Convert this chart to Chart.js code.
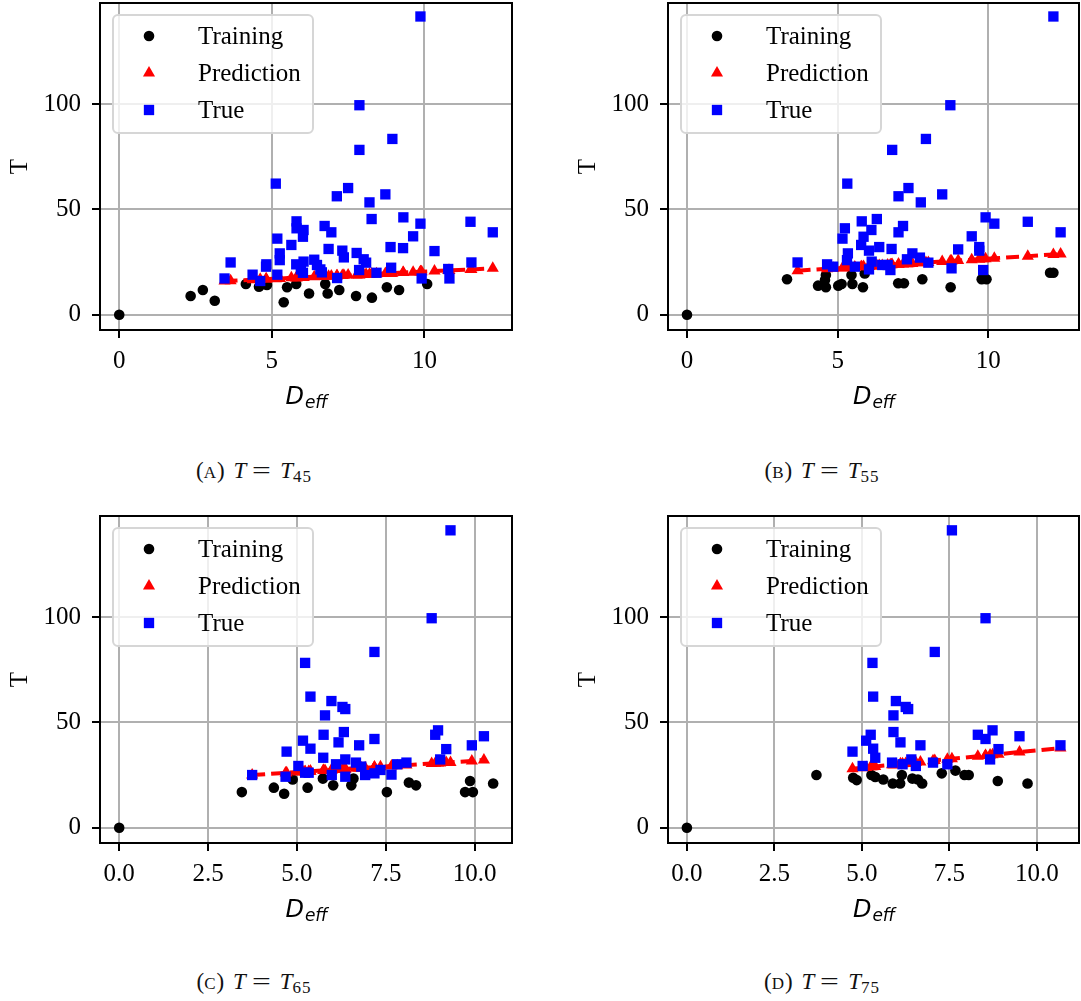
<!DOCTYPE html>
<html>
<head>
<meta charset="utf-8">
<script src="https://cdn.jsdelivr.net/npm/chart.js"></script>
<style>
body { margin: 0; background: #fff; width: 1081px; height: 1001px; position: relative; overflow: hidden; }
canvas { position: absolute; }
.cap { position: absolute; width: 240px; text-align: center; font-family: 'Liberation Serif', serif; font-size: 23px; line-height: 30px; color: #111; white-space: nowrap; }
.cap .sc { font-size: 17px; letter-spacing: 1px; }
.cap .eq { display: inline-block; transform: scaleX(1.45); margin: 0 9px; }
.cap i { margin-left: 3px; }
.cap sub { font-size: 17px; letter-spacing: 1px; vertical-align: -4px; line-height: 0; }
</style>
</head>
<body>
<canvas id="c45" width="540" height="430" style="left:0px;top:0px"></canvas>
<canvas id="c55" width="513" height="430" style="left:568px;top:0px"></canvas>
<canvas id="c65" width="540" height="430" style="left:0px;top:513px"></canvas>
<canvas id="c75" width="513" height="430" style="left:568px;top:513px"></canvas>

<div class="cap" style="left:134px;top:456px">(<span class="sc">A</span>) <i>T</i><span class="eq">=</span><i>T</i><sub>45</sub></div>
<div class="cap" style="left:702px;top:456px">(<span class="sc">B</span>) <i>T</i><span class="eq">=</span><i>T</i><sub>55</sub></div>
<div class="cap" style="left:134px;top:967px">(<span class="sc">C</span>) <i>T</i><span class="eq">=</span><i>T</i><sub>65</sub></div>
<div class="cap" style="left:702px;top:967px">(<span class="sc">D</span>) <i>T</i><span class="eq">=</span><i>T</i><sub>75</sub></div>

<script>
// T45
const trainX45 = [0, 2.34, 2.74, 3.13, 4.15, 4.58, 4.73, 4.84, 5.39, 5.50, 5.80, 6.22, 6.75, 6.83, 7.21, 7.76, 8.28, 8.77, 9.17, 10.09]
const trainY45 = [0, 8.9, 11.7, 6.6, 14.6, 13.3, 14.6, 14.1, 5.9, 13.0, 14.6, 10.1, 14.6, 10.1, 11.7, 8.9, 8.1, 13.0, 11.7, 14.6]
const testX45 = [3.45, 3.65, 4.37, 4.62, 4.81, 4.82, 5.13, 5.18, 5.18, 5.26, 5.26, 5.64, 5.80, 5.81, 5.81, 5.95, 6.02, 6.02, 6.04, 6.04, 6.39, 6.48, 6.59, 6.64, 6.73, 6.86, 6.95, 7.13, 7.14, 7.31, 7.36, 7.50, 7.78, 7.86, 7.87, 7.87, 8.01, 8.09, 8.20, 8.27, 8.43, 8.72, 8.89, 8.91, 8.95, 9.30, 9.31, 9.63, 9.87, 9.87, 9.91, 10.33, 10.78, 10.82, 11.51, 11.54, 12.24]
const trueY45 = [17.2, 24.8, 19.0, 16.0, 22.8, 23.9, 62.2, 36.1, 19.0, 29.1, 25.9, 33.1, 23.9, 44.3, 41.0, 21.5, 37.0, 19.9, 40.2, 25.2, 26.1, 23.6, 21.5, 20.1, 42.1, 31.2, 39.1, 56.2, 17.4, 30.4, 27.2, 60.1, 29.3, 21.2, 99.4, 78.2, 26.3, 24.7, 53.3, 45.4, 19.9, 57.1, 32.1, 22.3, 83.4, 31.6, 46.2, 37.2, 141.5, 43.2, 17.2, 30.2, 21.7, 17.2, 44.1, 24.8, 39.1]
const predY45 = [16.0, 16.1, 16.6, 16.8, 16.9, 16.9, 17.1, 17.2, 17.2, 17.2, 17.2, 17.5, 17.6, 17.6, 17.6, 17.7, 17.7, 17.7, 17.8, 17.8, 18.0, 18.1, 18.1, 18.2, 18.2, 18.3, 18.4, 18.5, 18.5, 18.6, 18.7, 18.8, 18.9, 19.0, 19.0, 19.0, 19.1, 19.2, 19.2, 19.3, 19.4, 19.6, 19.7, 19.7, 19.7, 20.0, 20.0, 20.2, 20.4, 20.4, 20.4, 20.7, 21.0, 21.0, 21.5, 21.5, 22.0]

// T55
const trainX55 = [0, 3.32, 4.35, 4.58, 4.61, 4.61, 5.02, 5.13, 5.46, 5.49, 5.84, 5.90, 7.01, 7.20, 7.81, 8.75, 9.78, 9.94, 12.05, 12.16]
const trainY55 = [0, 16.8, 13.8, 16.5, 13.0, 18.8, 13.8, 14.6, 18.8, 14.6, 13.0, 19.6, 14.9, 14.9, 16.8, 13.0, 16.8, 16.8, 19.9, 19.9]
const testX55 = [3.67, 4.65, 4.85, 5.16, 5.24, 5.31, 5.32, 5.34, 5.57, 5.78, 5.80, 5.86, 6.04, 6.04, 6.12, 6.13, 6.30, 6.38, 6.48, 6.66, 6.75, 6.79, 6.81, 7.02, 7.02, 7.17, 7.30, 7.35, 7.48, 7.73, 7.76, 7.93, 8.01, 8.47, 8.74, 8.78, 9.00, 9.45, 9.70, 9.70, 9.83, 9.91, 10.20, 11.31, 12.16, 12.40]
const trueY55 = [24.8, 23.9, 22.8, 36.1, 41.0, 25.9, 62.2, 29.1, 22.8, 33.1, 44.3, 37.0, 30.4, 21.5, 40.2, 25.2, 45.4, 32.1, 23.6, 23.6, 21.2, 31.2, 78.2, 56.2, 39.1, 42.1, 26.3, 60.1, 29.1, 27.1, 53.3, 83.4, 24.7, 57.1, 99.4, 22.0, 31.0, 37.2, 32.1, 30.4, 21.2, 46.2, 43.2, 44.1, 141.5, 39.1]
const predY55 = [20.9, 21.8, 22.0, 22.2, 22.3, 22.4, 22.4, 22.4, 22.6, 22.8, 22.8, 22.9, 23.0, 23.0, 23.1, 23.1, 23.3, 23.4, 23.4, 23.6, 23.7, 23.7, 23.8, 23.9, 23.9, 24.1, 24.2, 24.2, 24.3, 24.6, 24.6, 24.8, 24.8, 25.2, 25.5, 25.5, 25.7, 26.1, 26.4, 26.4, 26.5, 26.5, 26.8, 27.8, 28.6, 28.8]

// T65
const trainX65 = [0, 3.45, 4.35, 4.64, 4.88, 5.30, 5.73, 6.02, 6.53, 6.59, 7.53, 8.15, 8.35, 9.73, 9.87, 9.95, 10.52]
const trainY65 = [0, 16.9, 19.0, 16.1, 22.9, 19.0, 23.3, 20.1, 20.1, 23.3, 16.9, 21.4, 20.1, 16.9, 22.2, 16.9, 21.0]
const testX65 = [3.74, 4.68, 4.71, 5.04, 5.17, 5.23, 5.23, 5.33, 5.38, 5.38, 5.74, 5.75, 5.79, 5.97, 5.98, 6.10, 6.17, 6.28, 6.32, 6.36, 6.36, 6.36, 6.66, 6.75, 6.81, 6.92, 7.18, 7.18, 7.18, 7.35, 7.66, 7.82, 8.08, 8.79, 8.89, 8.97, 9.03, 9.20, 9.32, 9.92, 10.26]
const trueY65 = [25.0, 24.2, 36.1, 29.3, 41.3, 78.2, 26.1, 26.1, 62.2, 37.5, 33.2, 44.1, 53.3, 60.1, 25.0, 30.1, 40.5, 57.3, 45.4, 56.3, 32.4, 24.2, 30.9, 39.1, 29.0, 25.0, 83.4, 42.1, 25.8, 27.4, 25.2, 30.1, 30.9, 99.4, 44.1, 46.2, 32.4, 37.3, 141.1, 39.1, 43.4]
const predY65 = [25.0, 26.0, 26.1, 26.4, 26.6, 26.6, 26.6, 26.7, 26.8, 26.8, 27.2, 27.2, 27.2, 27.4, 27.4, 27.6, 27.6, 27.8, 27.8, 27.9, 27.9, 27.9, 28.2, 28.3, 28.3, 28.5, 28.7, 28.7, 28.7, 28.9, 29.3, 29.4, 29.7, 30.5, 30.6, 30.7, 30.7, 30.9, 31.0, 31.7, 32.1]

// T75
const trainX75 = [0, 3.70, 4.75, 4.85, 5.27, 5.38, 5.61, 5.88, 6.09, 6.14, 6.44, 6.60, 6.72, 7.28, 7.67, 7.93, 8.05, 8.88, 9.73]
const trainY75 = [0, 25.0, 23.7, 22.6, 25.0, 24.1, 22.9, 21.0, 21.0, 25.0, 23.3, 22.9, 21.0, 25.8, 27.1, 25.0, 25.0, 22.2, 21.0]
const testX75 = [4.73, 5.02, 5.12, 5.25, 5.30, 5.32, 5.32, 5.38, 5.86, 5.90, 5.90, 5.97, 6.10, 6.16, 6.25, 6.32, 6.41, 6.54, 6.67, 7.03, 7.08, 7.44, 7.57, 8.31, 8.53, 8.53, 8.66, 8.73, 8.90, 9.50, 10.67]
const trueY75 = [36.1, 29.3, 41.3, 44.1, 78.2, 62.2, 37.5, 33.2, 30.9, 53.3, 45.4, 60.1, 40.5, 30.1, 57.3, 56.3, 32.4, 29.3, 39.1, 30.9, 83.4, 30.1, 141.1, 44.1, 99.4, 42.1, 32.4, 46.2, 37.3, 43.4, 39.1]
const predY75 = [28.0, 28.5, 28.6, 28.9, 28.9, 29.0, 29.0, 29.1, 29.9, 29.9, 29.9, 30.0, 30.3, 30.4, 30.5, 30.6, 30.8, 31.0, 31.2, 31.8, 31.9, 32.5, 32.7, 33.9, 34.3, 34.3, 34.5, 34.6, 34.9, 35.9, 37.8]

const yTicks = [0, 50, 100]
const xTicksWide = [0, 5, 10]
const xTicksFine = [0, 2.5, 5, 7.5, 10]

const serif = "'Liberation Serif', 'Times New Roman', serif"

const pts = (xs, ys) => xs.map((x, i) => ({ x: x, y: ys[i] }))

// axes frame, axis titles and the legend box
const decorations = {
    id: 'decorations',
    afterDraw(chart) {
        const ctx = chart.ctx
        const a = chart.chartArea

        ctx.save()
        ctx.strokeStyle = '#000'
        ctx.lineWidth = 2
        ctx.strokeRect(a.left, a.top, a.right - a.left, a.bottom - a.top)

        // y title
        ctx.fillStyle = '#000'
        ctx.font = '25px ' + serif
        ctx.textAlign = 'center'
        ctx.textBaseline = 'middle'
        ctx.translate(a.left - 80, (a.top + a.bottom) / 2)
        ctx.rotate(-Math.PI / 2)
        ctx.fillText('T', 0, 0)
        ctx.restore()

        // x title D_eff
        ctx.save()
        ctx.fillStyle = '#000'
        ctx.textBaseline = 'alphabetic'
        ctx.textAlign = 'left'
        const big = "oblique 24px 'DejaVu Sans'"
        const small = "oblique 17px 'DejaVu Sans'"
        ctx.font = big
        const wD = ctx.measureText('D').width
        ctx.font = small
        const wSub = ctx.measureText('eff').width
        const x0 = (a.left + a.right) / 2 - (wD + wSub) / 2
        const base = a.bottom + 74
        ctx.font = big
        ctx.fillText('D', x0, base)
        ctx.font = small
        ctx.fillText('eff', x0 + wD + 1, base + 4)
        ctx.restore()

        // legend
        const lx = a.left + 13
        const ly = a.top + 12
        ctx.save()
        ctx.beginPath()
        ctx.roundRect(lx, ly, 200, 118, 5)
        ctx.fillStyle = 'rgba(255,255,255,0.8)'
        ctx.fill()
        ctx.strokeStyle = '#d6d6d6'
        ctx.lineWidth = 2
        ctx.stroke()
        const rows = [33, 70, 107]
        chart.data.datasets.forEach((ds, i) => {
            const y = a.top + rows[i]
            ctx.fillStyle = ds.backgroundColor
            Chart.helpers.drawPoint(ctx, { pointStyle: ds.pointStyle, radius: ds.pointRadius, rotation: 0, borderWidth: 0 }, a.left + 49, y)
            ctx.fillStyle = '#000'
            ctx.font = '25px ' + serif
            ctx.textAlign = 'left'
            ctx.textBaseline = 'middle'
            ctx.fillText(ds.label, a.left + 98, y + 1)
        })
        ctx.restore()
    },
}

function makePanel(id, trainX, trainY, testX, trueY, predY, xMin, xMax, xTicks, fmt, padRight) {
    const tickFont = { family: serif, size: 25 }
    return new Chart(document.getElementById(id), {
        type: 'scatter',
        data: {
            datasets: [
                {
                    label: 'Training',
                    data: pts(trainX, trainY),
                    pointStyle: 'circle',
                    pointRadius: 5.3,
                    backgroundColor: '#000000',
                    borderWidth: 0,
                    order: 3,
                },
                {
                    label: 'Prediction',
                    data: pts(testX, predY),
                    showLine: true,
                    borderColor: '#ff0000',
                    borderWidth: 4,
                    borderDash: [13, 6],
                    backgroundColor: '#ff0000',
                    pointStyle: 'triangle',
                    pointRadius: 7,
                    pointBorderWidth: 0,
                    order: 2,
                },
                {
                    label: 'True',
                    data: pts(testX, trueY),
                    pointStyle: 'rect',
                    pointRadius: 7.3,
                    backgroundColor: '#0000ff',
                    borderWidth: 0,
                    order: 1,
                },
            ],
        },
        options: {
            responsive: false,
            animation: false,
            layout: { autoPadding: false, padding: { top: 3, right: padRight, left: 0, bottom: 0 } },
            plugins: { legend: { display: false }, tooltip: { enabled: false } },
            scales: {
                x: {
                    type: 'linear',
                    min: xMin,
                    max: xMax,
                    afterBuildTicks: (s) => { s.ticks = xTicks.map((v) => ({ value: v })) },
                    afterFit: (s) => { s.height = 100; s.paddingLeft = 0; s.paddingRight = 0 },
                    ticks: { font: tickFont, color: '#000', padding: 8, autoSkip: false, maxRotation: 0, callback: fmt },
                    grid: { color: '#b0b0b0', lineWidth: 2, tickColor: '#000', tickLength: 8, tickWidth: 2 },
                    border: { display: false },
                },
                y: {
                    type: 'linear',
                    min: -7.25,
                    max: 147.9,
                    afterBuildTicks: (s) => { s.ticks = yTicks.map((v) => ({ value: v })) },
                    afterFit: (s) => { s.width = 100; s.paddingTop = 0; s.paddingBottom = 0 },
                    ticks: { font: tickFont, color: '#000', padding: 11, autoSkip: false, callback: (v) => String(v) },
                    grid: { color: '#b0b0b0', lineWidth: 2, tickColor: '#000', tickLength: 8, tickWidth: 2 },
                    border: { display: false },
                },
            },
        },
        plugins: [decorations],
    })
}

const whole = (v) => String(v)
const oneDec = (v) => v.toFixed(1)

makePanel('c45', trainX45, trainY45, testX45, trueY45, predY45, -0.63, 12.87, xTicksWide, whole, 28)
makePanel('c55', trainX55, trainY55, testX55, trueY55, predY55, -0.63, 13.01, xTicksWide, whole, 2)
makePanel('c65', trainX65, trainY65, testX65, trueY65, predY65, -0.54, 11.05, xTicksFine, oneDec, 28)
makePanel('c75', trainX75, trainY75, testX75, trueY75, predY75, -0.54, 11.2, xTicksFine, oneDec, 2)
</script>
</body>
</html>
